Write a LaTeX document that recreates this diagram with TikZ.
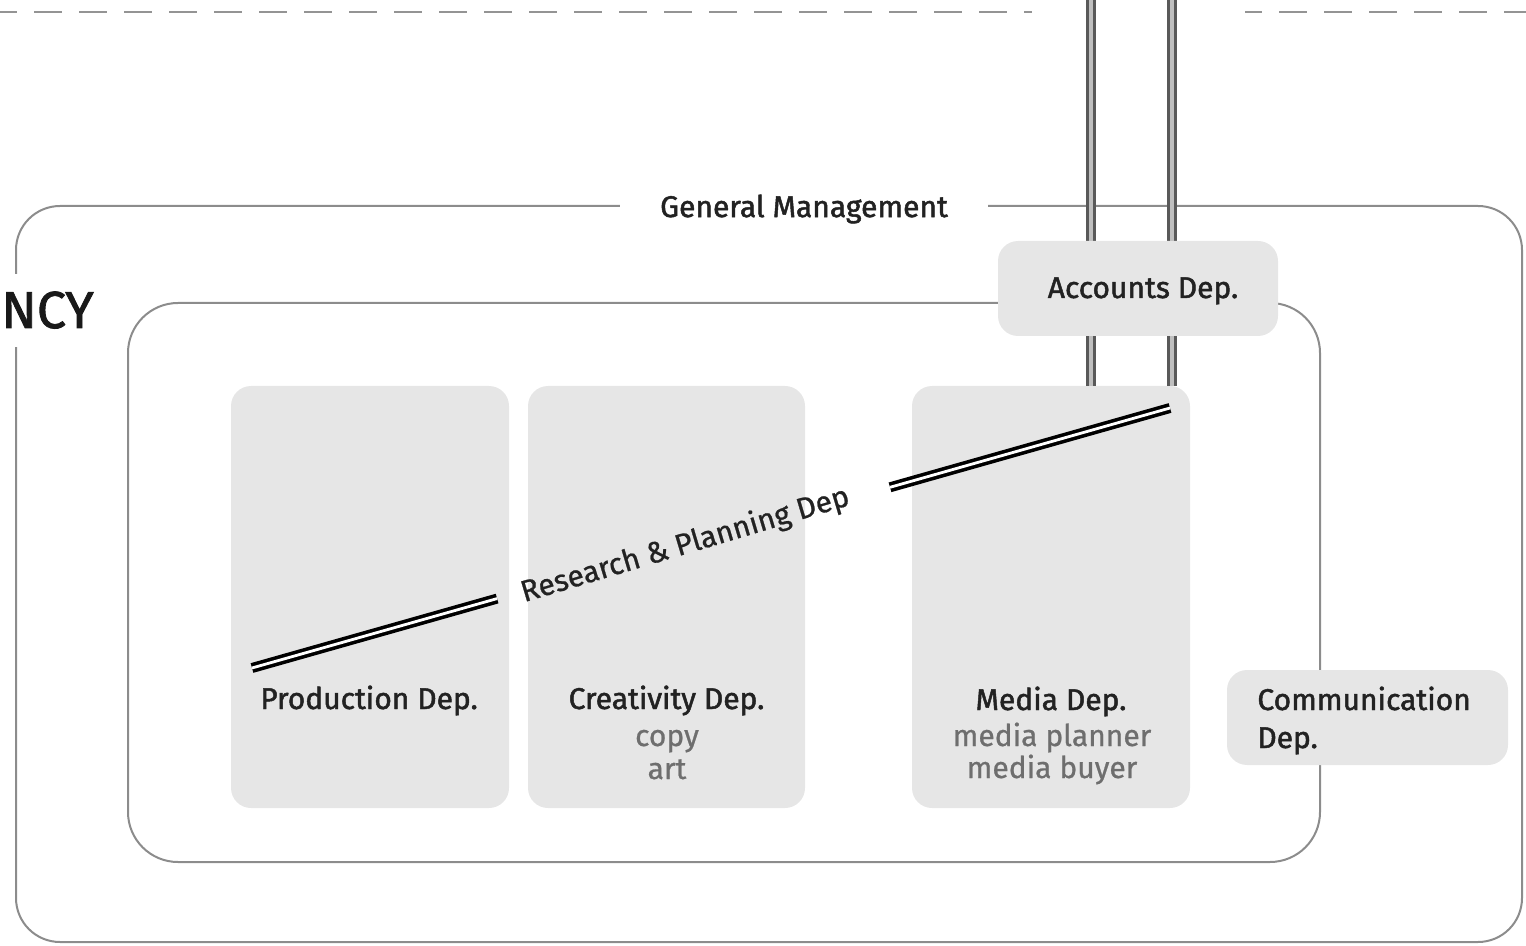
\documentclass[tikz,border=0pt]{standalone}
\usepackage{fontspec}
\setmainfont{Fira Sans}
\newfontfamily\medfont{Fira Sans}[FakeBold=1.6]
\newfontfamily\semifont{Fira Sans}[FakeBold=0.8]
\usetikzlibrary{calc}
\definecolor{boxgray}{HTML}{E6E6E6}
\definecolor{linegray}{HTML}{8C8C8C}
\definecolor{subgray}{HTML}{6E6E6E}
\definecolor{txtdark}{HTML}{222222}
\begin{document}
\begin{tikzpicture}[x=0.5pt,y=-0.5pt,
  frame/.style={draw=linegray,line width=1pt,inner sep=0pt},
  deptbox/.style={fill=boxgray,rounded corners=10pt,inner sep=0pt},
  lbl/.style={font=\medfont\fontsize{15}{17}\selectfont,text=txtdark,anchor=base,inner sep=0pt},
  sublbl/.style={font=\semifont\fontsize{15}{17}\selectfont,text=subgray,anchor=base,inner sep=0pt},
  dashline/.style={draw=black!42,line width=1.4pt,dash pattern=on 14pt off 8.5pt,dash phase=5.5pt},
  vdouble/.style={draw=black!65,line width=1.4pt,double=black!25,double distance=1.8pt},
  rdouble/.style={draw=black,line width=1.8pt,double=white,double distance=1.4pt}]
\useasboundingbox (0,0) rectangle (1526,946);
% top dashed boundary
\coordinate (dl0) at (0,12);
\coordinate (dl1) at (1032,12);
\coordinate (dl2) at (1245,12);
\coordinate (dl3) at (1526,12);
\draw[dashline] (dl0) -- (dl1);
\draw[dashline] (dl2) -- (dl3);
% outer frame: General Management
\node[frame,rounded corners=22pt,minimum width=753pt,minimum height=368pt] (gm) at (769,574) {};
\node[lbl,anchor=center,fill=white,inner xsep=20pt,inner ysep=4pt] (gmlabel) at (804,209) {General Management};
% agency label on left edge
\node[font=\medfont\fontsize{26}{29}\selectfont,text=black!90,fill=white,anchor=base west,inner xsep=1pt,inner ysep=9pt] (agency) at (-1,328) {NCY};
% inner frame
\node[frame,rounded corners=25pt,minimum width=596pt,minimum height=279.5pt] (inner) at (724,582.5) {};
% vertical double lines
\coordinate (vL) at (1091,0);
\coordinate (vR) at (1172,0);
% department boxes
\node[deptbox,minimum width=139pt,minimum height=211pt] (prod) at (370,597) {};
\node[deptbox,minimum width=138.5pt,minimum height=211pt] (crea) at (666.5,597) {};
\node[deptbox,minimum width=139pt,minimum height=211pt] (media) at (1051,597) {};
\draw[vdouble] (vL) -- (vL |- media.north);
\draw[vdouble] (vR) -- (vR |- media.north);
\node[deptbox,minimum width=140pt,minimum height=47.5pt] (acct) at (1138,288.5) {};
\node[deptbox,minimum width=140.5pt,minimum height=47.5pt] (comm) at (1367.5,717.5) {};
% labels
\node[lbl] (acctname) at (1143,298) {Accounts Dep.};
\node[lbl] (prodname) at (369,709) {Production Dep.};
\node[lbl] (creaname) at (666.5,709) {Creativity Dep.};
\node[sublbl] (creacopy) at (667,746) {copy};
\node[sublbl] (creaart) at (667,779) {art};
\node[lbl] (medianame) at (1051,710) {Media Dep.};
\node[sublbl] (mediaplan) at (1052,746) {media planner};
\node[sublbl] (mediabuy) at (1052,778) {media buyer};
\node[lbl,anchor=base west] (commname1) at (1257,710) {Communication};
\node[lbl,anchor=base west] (commname2) at (1257,748) {Dep.};
% research & planning diagonal
\coordinate (rpA) at (252,668);
\coordinate (rpB) at (1170,408);
\draw[rdouble] (rpA) -- ($(rpA)!0.267!(rpB)$);
\draw[rdouble] ($(rpA)!0.695!(rpB)$) -- (rpB);
\path (rpA) -- (rpB) node[pos=0.472,sloped,rotate=0.8,font=\semifont\fontsize{15}{17}\selectfont,text=txtdark,inner sep=0pt] (rplabel) {Research \& Planning Dep};
\end{tikzpicture}
\end{document}
